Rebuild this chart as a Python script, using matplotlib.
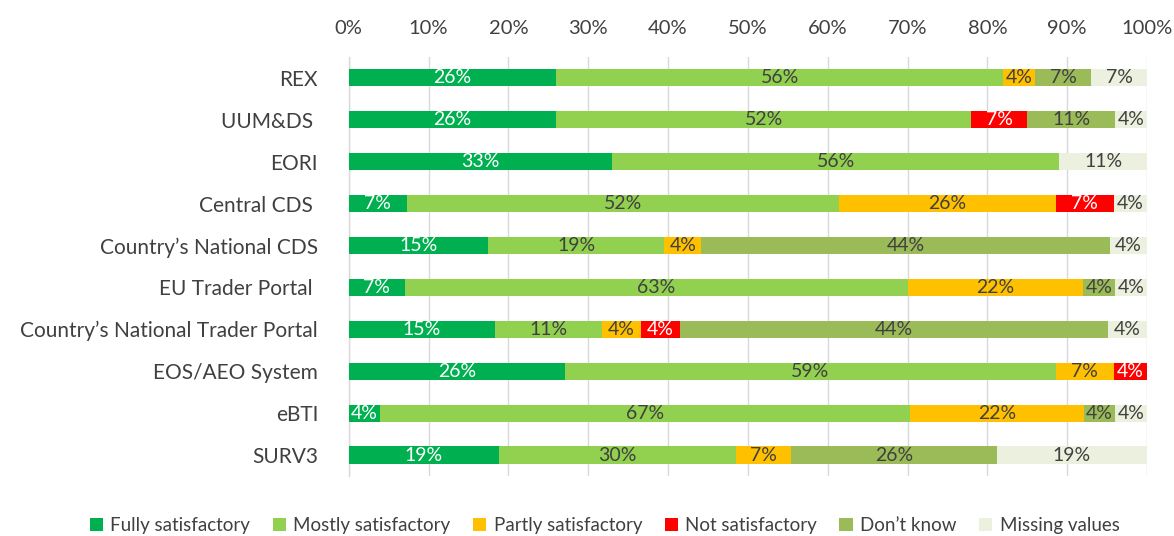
import numpy as np
import matplotlib.pyplot as plt

plt.rcParams['font.family'] = ['Lato', 'DejaVu Sans']

# Data (shares shown in the chart, %); each bar is drawn as 100% stacked
systems = ['REX', 'UUM&DS ', 'EORI', 'Central CDS ', 'Country\u2019s National CDS',
           'EU Trader Portal ', 'Country\u2019s National Trader Portal',
           'EOS/AEO System', 'eBTI', 'SURV3']
answers = ['Fully satisfactory', 'Mostly satisfactory', 'Partly satisfactory',
           'Not satisfactory', 'Don\u2019t know', 'Missing values']

fully = [26, 26, 33, 7, 15, 7, 15, 26, 4, 19]
mostly = [56, 52, 56, 52, 19, 63, 11, 59, 67, 30]
partly = [4, 0, 0, 26, 4, 22, 4, 7, 22, 7]
not_sat = [0, 7, 0, 7, 0, 0, 4, 4, 0, 0]
dont_know = [7, 11, 0, 0, 44, 4, 44, 0, 4, 26]
missing = [7, 4, 11, 4, 4, 4, 4, 0, 4, 19]

colors = ['#00B050', '#92D050', '#FFC000', '#FF0000', '#9BBB59', '#EBF1DE']
text_colors = ['white', '#404040', '#404040', 'white', '#404040', '#404040']

vals = np.array([fully, mostly, partly, not_sat, dont_know, missing], dtype=float)
shares = vals / vals.sum(axis=0) * 100

fig = plt.figure(figsize=(11.74, 5.36), dpi=100)
ax = fig.add_axes([0.297, 0.112, 0.680, 0.782])

y = np.arange(len(systems))
left = np.zeros(len(systems))
for i, name in enumerate(answers):
    ax.barh(y, shares[i], left=left, height=0.41, color=colors[i], label=name,
            linewidth=0, zorder=3)
    for j in range(len(systems)):
        if vals[i, j] > 0:
            ax.text(left[j] + shares[i, j] / 2, y[j], f'{int(vals[i, j])}%',
                    ha='center', va='center', fontsize=14, color=text_colors[i],
                    zorder=4)
    left += shares[i]

ax.set_xlim(0, 100)
ax.set_ylim(len(systems) - 0.5, -0.5)
ax.set_yticks(y)
ax.set_yticklabels(systems, fontsize=15, color='#404040')
ax.set_xticks(np.arange(0, 101, 10))
ax.set_xticklabels([f'{v}%' for v in range(0, 101, 10)], fontsize=14.5, color='#404040')
ax.xaxis.tick_top()
ax.tick_params(axis='x', length=0, pad=14)
ax.tick_params(axis='y', length=0, pad=22)
ax.grid(axis='x', color='#D9D9D9', linewidth=1, zorder=0)
for s in ['top', 'right', 'bottom']:
    ax.spines[s].set_visible(False)
ax.spines['left'].set_color('#D9D9D9')
ax.spines['left'].set_linewidth(1)

fig.legend(loc='lower center', bbox_to_anchor=(0.515, -0.028), ncol=6, frameon=False,
           fontsize=13.5, handlelength=0.7, handleheight=0.7, handletextpad=0.4,
           columnspacing=1.2, labelcolor='#404040')

fig.savefig('out.png', dpi=100)
